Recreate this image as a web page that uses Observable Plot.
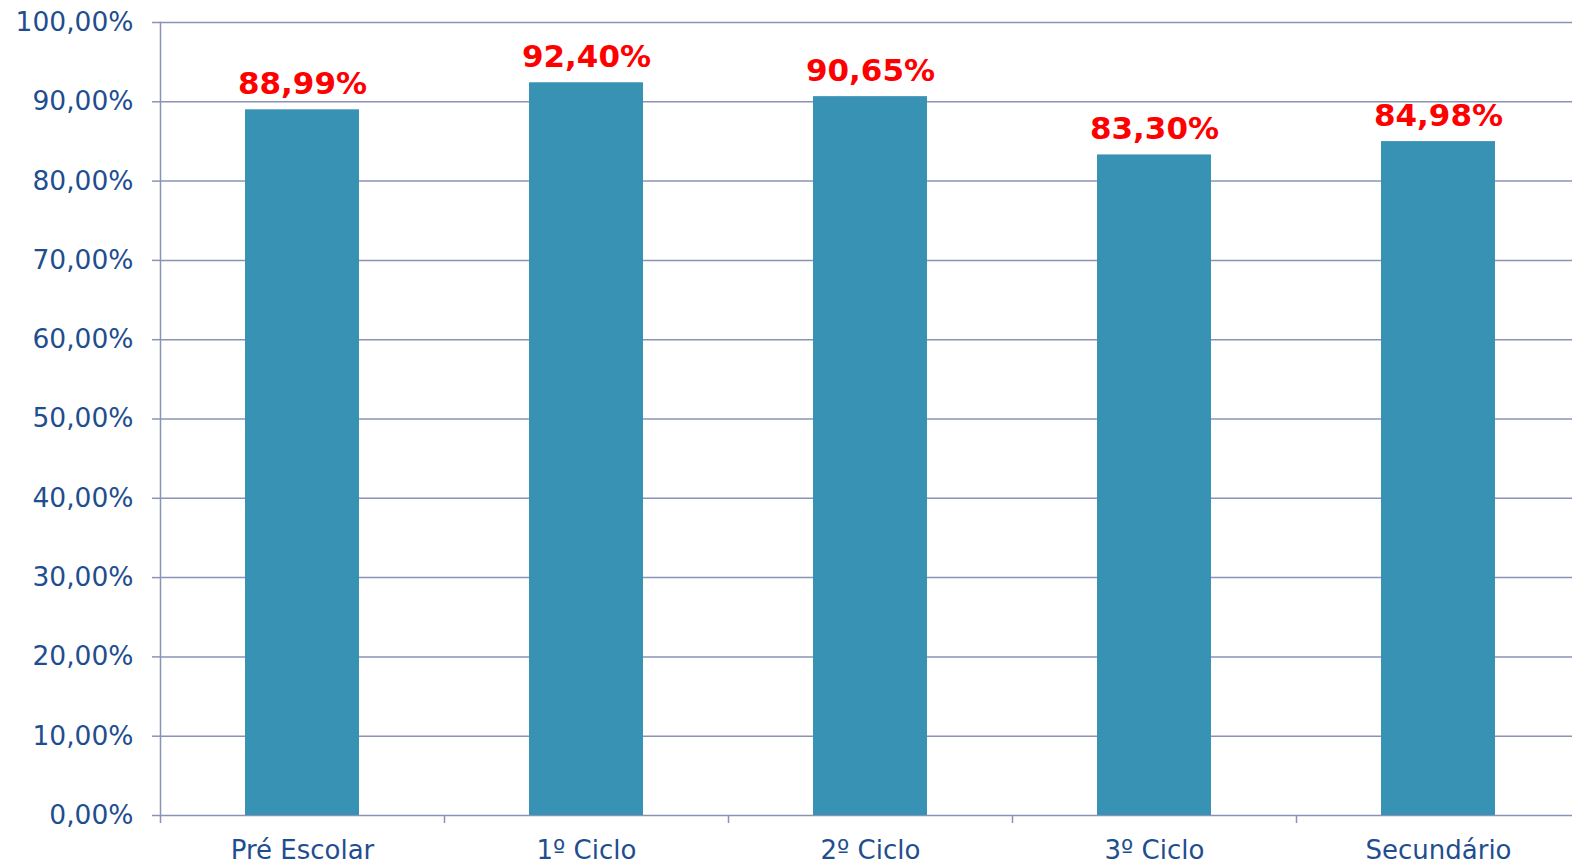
<!DOCTYPE html>
<html>
<head>
<meta charset="utf-8">
<script src="https://cdn.jsdelivr.net/npm/d3@7"></script>
<script src="https://cdn.jsdelivr.net/npm/@observablehq/plot@0.6"></script>
<style>
  html, body { margin: 0; padding: 0; background: #fff; overflow: hidden; }
</style>
</head>
<body>
<div id="chart"></div>
<script>
const categories = ["Pré Escolar", "1º Ciclo", "2º Ciclo", "3º Ciclo", "Secundário"];
const values = [88.99, 92.40, 90.65, 83.30, 84.98];
const yTicks = [0, 10, 20, 30, 40, 50, 60, 70, 80, 90, 100];

const data = categories.map((c, i) => ({category: c, value: values[i]}));
const fmt = v => v.toFixed(2).replace(".", ",") + "%";

const axisColor = "#8a93b5";
const textColor = "#1f4e8f";
const barColor = "#3792b4";

const chart = Plot.plot({
  width: 1572,
  height: 865,
  marginLeft: 160,
  marginRight: 0,
  marginTop: 22,
  marginBottom: 50,
  style: {fontFamily: "'DejaVu Sans', Verdana, sans-serif", fontSize: "26px", background: "#fff"},
  x: {domain: categories, range: [160, 1580], paddingInner: 0.6, paddingOuter: 0.3, label: null},
  y: {domain: [0, 100], label: null},
  marks: [
    Plot.ruleY(yTicks, {stroke: axisColor, strokeWidth: 1.5}),
    Plot.frame({anchor: "left", stroke: axisColor, strokeWidth: 1.5}),
    Plot.barY(data, {x: "category", y: "value", fill: barColor}),
    Plot.text(data, {
      x: "category", y: "value", text: d => fmt(d.value),
      lineAnchor: "bottom", dy: -16, fill: "#ff0000",
      fontWeight: "bold", fontSize: 31
    }),
    Plot.axisY({
      ticks: yTicks, tickSize: 8, tickPadding: 19, tickFormat: fmt,
      stroke: axisColor, strokeWidth: 1.5, fill: textColor, fontSize: 26.5, label: null
    }),
    Plot.axisX({tickSize: 8, dx: -142, stroke: axisColor, strokeWidth: 1.5, fill: "none", label: null}),
    Plot.axisX({tickSize: 0, tickPadding: 25, stroke: "none", fill: textColor, fontSize: 26, label: null})
  ]
});
document.getElementById("chart").appendChild(chart);
</script>
</body>
</html>
